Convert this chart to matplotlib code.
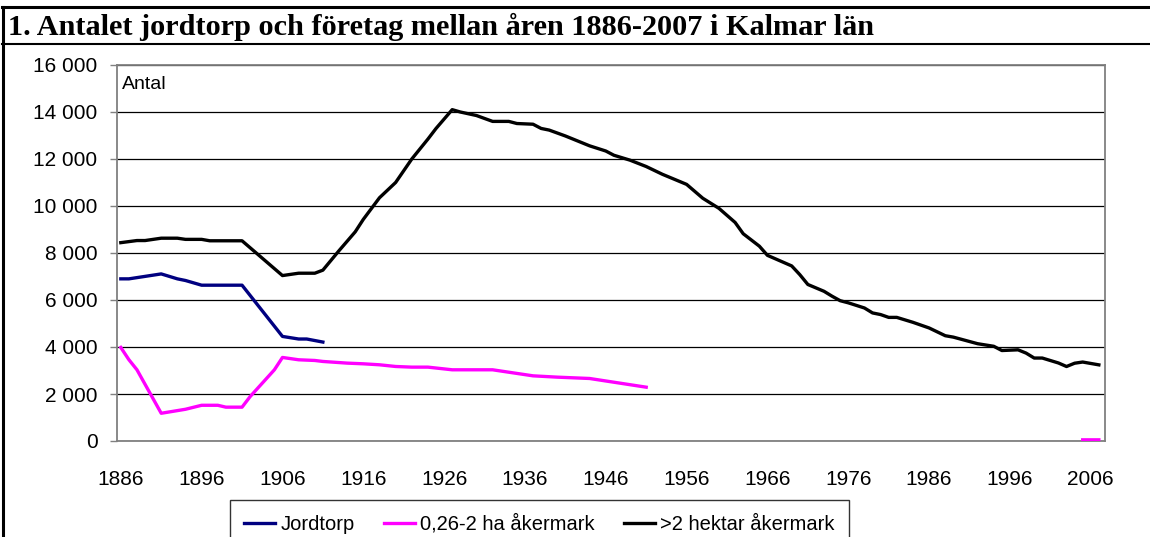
import matplotlib.pyplot as plt
from matplotlib.lines import Line2D
from matplotlib.ticker import FuncFormatter

nan = float("nan")

# Jordtorp
jord_years = [1886, 1887, 1891, 1893, 1894, 1896, 1901, 1906, 1908, 1909, 1911]
jord_vals = [6900, 6900, 7110, 6900, 6830, 6630, 6630, 4450, 4340, 4340, 4210]

# 0,26-2 ha åkermark (gap between 1951 and 2005)
small_years = [1886, 1887, 1888, 1891, 1894, 1896, 1898, 1899, 1901, 1902, 1905, 1906,
               1908, 1910, 1911, 1914, 1916, 1918, 1920, 1922, 1924, 1927, 1932, 1937,
               1940, 1944, 1951, 1980, 2005, 2006, 2007]
small_vals = [3980, 3460, 3030, 1180, 1350, 1520, 1520, 1440, 1440, 1890, 3030, 3555,
              3456, 3427, 3385, 3314, 3285, 3243, 3171, 3143, 3143, 3030, 3030, 2773,
              2717, 2660, 2290, nan, 50, 50, 50]

# >2 hektar åkermark
big_years = [1886, 1888, 1889, 1891, 1893, 1894, 1896, 1897, 1901, 1906, 1908, 1910,
             1911, 1913, 1915, 1916, 1918, 1920, 1922, 1924, 1925, 1927, 1928, 1930,
             1932, 1934, 1935, 1937, 1938, 1939, 1941, 1943, 1944, 1946, 1947, 1949,
             1951, 1953, 1956, 1958, 1960, 1962, 1963, 1965, 1966, 1967, 1969, 1970,
             1971, 1973, 1974, 1975, 1976, 1978, 1979, 1980, 1981, 1982, 1984, 1986,
             1988, 1989, 1992, 1994, 1995, 1997, 1998, 1999, 2000, 2002, 2003, 2004,
             2005, 2007]
big_vals = [8440, 8530, 8530, 8630, 8630, 8580, 8580, 8520, 8520, 7040, 7140, 7140,
            7270, 8100, 8900, 9430, 10350, 11000, 12000, 12850, 13300, 14100, 14000, 13850,
            13600, 13600, 13510, 13480, 13300, 13230, 12980, 12700, 12560, 12340, 12160, 11950,
            11680, 11350, 10920, 10330, 9900, 9300, 8820, 8290, 7900, 7750, 7450, 7080,
            6660, 6370, 6160, 5970, 5880, 5660, 5450, 5380, 5260, 5260, 5050, 4810,
            4480, 4420, 4140, 4030, 3850, 3880, 3740, 3530, 3530, 3320, 3170, 3310,
            3360, 3240]

xtick_years = list(range(1886, 2007, 10))
yticks = list(range(0, 16001, 2000))

title = "1. Antalet jordtorp och företag mellan åren 1886-2007 i Kalmar län"
labels = ["Jordtorp", "0,26-2 ha åkermark", ">2 hektar åkermark"]
colors = ["#000080", "#FF00FF", "#000000"]

plt.rcParams["font.family"] = ["Liberation Sans", "DejaVu Sans"]

fig = plt.figure(figsize=(11.5, 5.37), dpi=100)
W, H = 1150, 537

# frame lines around the chart and under the title
fig.add_artist(Line2D([2 / W, 1], [1 - 7 / H, 1 - 7 / H], color="black", lw=2.2))
fig.add_artist(Line2D([3 / W, 3 / W], [0, 1 - 7 / H], color="black", lw=2.2))
fig.add_artist(Line2D([2 / W, 1], [1 - 44 / H, 1 - 44 / H], color="black", lw=1.5))
fig.text(8 / W, 1 - 27 / H, title, family="Liberation Serif", weight="bold",
         fontsize=21.8, va="center", ha="left")

ax = fig.add_axes([117 / W, 1 - 441 / H, (1105 - 117) / W, (441 - 65) / H])
ax.plot(jord_years, jord_vals, color=colors[0], lw=2.4, label=labels[0])
ax.plot(small_years, small_vals, color=colors[1], lw=2.4, label=labels[1], zorder=3)
ax.plot(big_years, big_vals, color=colors[2], lw=2.4, label=labels[2])

ax.set_xlim(1885.53, 2007.76)
ax.set_ylim(0, 16000)
ax.set_xticks(xtick_years)
ax.set_yticks(yticks)
ax.yaxis.set_major_formatter(FuncFormatter(lambda v, p: f"{int(v):,}".replace(",", " ")))
ax.tick_params(axis="x", length=0, pad=21, labelsize=15)
ax.tick_params(axis="y", length=5, width=1, color="#808080", pad=9, labelsize=15)
ax.grid(axis="y", color="black", lw=0.9)
for s in ax.spines.values():
    s.set_color("#808080")
    s.set_linewidth(1.3)

ax.text(0.005, 0.947, "Antal", transform=ax.transAxes, fontsize=14,
        ha="left", va="center")

leg = fig.legend(loc="upper left", bbox_to_anchor=(230 / W, 1 - 500 / H),
                 bbox_transform=fig.transFigure, ncol=3, fontsize=14.5,
                 frameon=True, fancybox=False, borderaxespad=0, borderpad=0.7,
                 handlelength=1.55, handletextpad=0.25, columnspacing=1.45)
leg.get_frame().set_edgecolor("black")
leg.get_frame().set_linewidth(1.0)
for line in leg.get_lines():
    line.set_linewidth(2.4)

fig.savefig("out.png", dpi=100)
